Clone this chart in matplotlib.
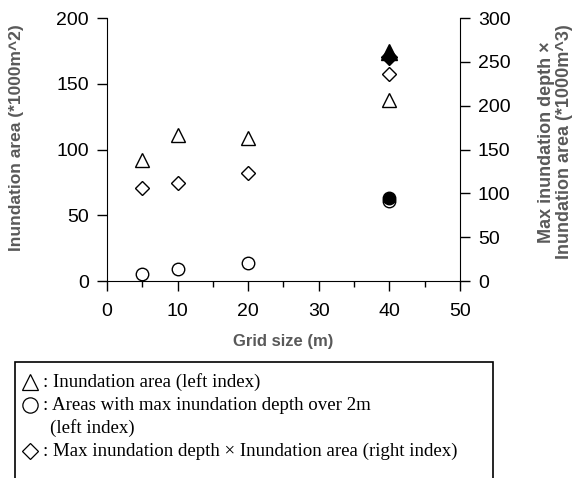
import matplotlib.pyplot as plt
from matplotlib.lines import Line2D
from matplotlib.patches import Rectangle
from matplotlib.ticker import MultipleLocator

# grid sizes (m)
grid = [5, 10, 20, 40]
# inundation area (*1000 m^2), left axis
inund_area = [92, 111, 109, 138]
# areas with max inundation depth over 2 m (*1000 m^2), left axis
area_over_2m = [5, 9, 14, 61]
# max depth x inundation area (*1000 m^3), right axis
depth_x_area = [106, 112, 123, 236]

# filled markers at 40 m
filled_grid = [40]
filled_area = [174]
filled_over_2m = [63]
filled_depth_x_area = [256]

label_color = '#595959'
plt.rcParams['font.family'] = ['Liberation Sans', 'DejaVu Sans']

fig = plt.figure(figsize=(5.82, 4.78), dpi=100)
ax = fig.add_axes([0.184, 0.412, 0.606, 0.55])
ax2 = ax.twinx()

ms_kw = dict(linestyle='none', markerfacecolor='white', markeredgecolor='black', markeredgewidth=1.0)
ax.plot(grid, inund_area, marker='^', markersize=10, **ms_kw)
ax.plot(grid, area_over_2m, marker='o', markersize=9, **ms_kw)
ax2.plot(grid, depth_x_area, marker='D', markersize=7.5, **ms_kw)

ax.plot(filled_grid, filled_over_2m, marker='o', markersize=9, color='black', linestyle='none')
ax.plot(filled_grid, filled_area, marker='^', markersize=11, color='black', linestyle='none')
ax2.plot(filled_grid, filled_depth_x_area, marker='D', markersize=8, color='black', linestyle='none')

ax.set_xlim(0, 50)
ax.set_ylim(0, 200)
ax2.set_ylim(0, 300)
ax.xaxis.set_major_locator(MultipleLocator(10))
ax.xaxis.set_minor_locator(MultipleLocator(5))
ax.yaxis.set_major_locator(MultipleLocator(50))
ax2.yaxis.set_major_locator(MultipleLocator(50))

for a in (ax, ax2):
    a.spines['top'].set_visible(False)
    a.tick_params(labelsize=14, direction='out', length=7, width=1, pad=6)
ax.tick_params(axis='x', which='minor', length=4, width=1)
ax.tick_params(axis='x', pad=9)
ax.spines['right'].set_visible(False)
ax2.spines['left'].set_visible(False)
ax2.spines['bottom'].set_visible(False)

ax.set_xlabel('Grid size (m)', fontsize=12, fontweight='bold', color=label_color)
ax.set_ylabel('Inundation area (*1000m^2)', fontsize=12.5, fontweight='bold', color=label_color)
ax2.set_ylabel('Max inundation depth \u00d7\nInundation area (*1000m^3)', fontsize=13,
               fontweight='bold', color=label_color, rotation=90, linespacing=1.05)
ax.xaxis.set_label_coords(0.5, -0.202)
ax.yaxis.set_label_coords(-0.235, 0.545)
ax2.yaxis.set_label_coords(1.222, 0.53)

# legend box in serif text
fig.patches.append(Rectangle((15 / 582, -0.05), (493 - 15) / 582, 1.05 - 362 / 478,
                             transform=fig.transFigure, fill=False, edgecolor='black', linewidth=1.2))
legend_syms = [('^', 12), ('o', 11), (None, 0), ('D', 8)]
legend_texts = [
    ': Inundation area (left index)',
    ': Areas with max inundation depth over 2m',
    '(left index)',
    ': Max inundation depth \u00d7 Inundation area (right index)',
]
ys = [382, 405, 428, 451]
for (mk, size), txt, y in zip(legend_syms, legend_texts, ys):
    yf = 1 - y / 478
    if mk:
        fig.add_artist(Line2D([30 / 582], [yf], marker=mk, markersize=size, transform=fig.transFigure,
                              markerfacecolor='white', markeredgecolor='black', markeredgewidth=0.9))
        x0 = 43
    else:
        x0 = 50
    fig.text(x0 / 582, yf, txt, fontsize=13.6, va='center', ha='left',
             family=['Liberation Serif', 'DejaVu Sans'])

fig.savefig('out.png', dpi=100)
